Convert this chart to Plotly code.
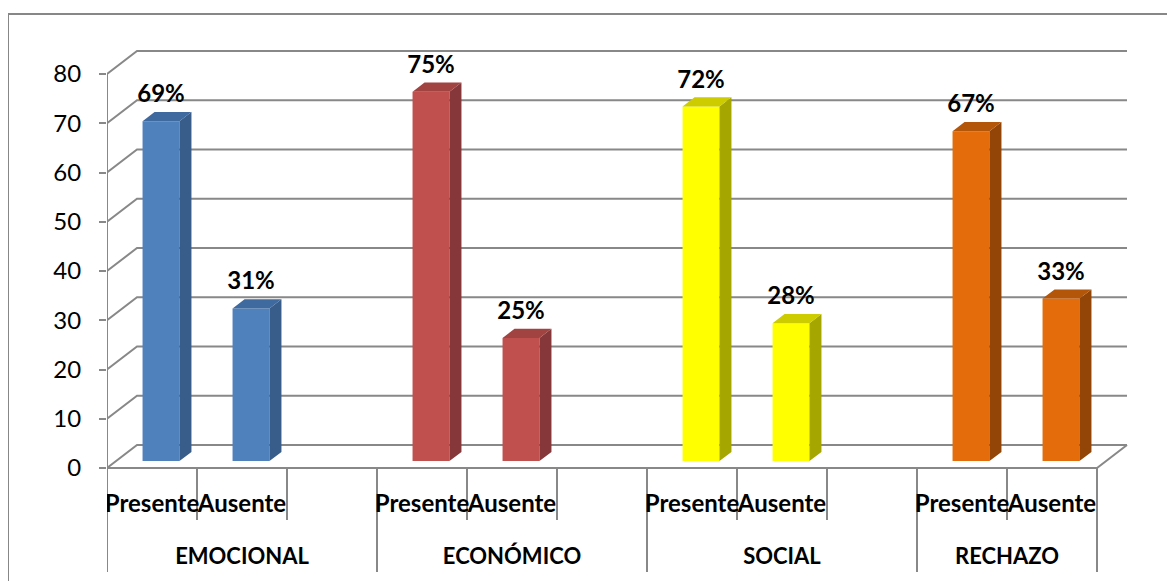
import plotly.graph_objects as go

# ---------------- data ----------------
categories = ["EMOCIONAL", "ECONÓMICO", "SOCIAL", "RECHAZO"]
sub_labels = ["Presente", "Ausente"]
presente = [69, 75, 72, 67]
ausente = [31, 25, 28, 33]
y_ticks = [0, 10, 20, 30, 40, 50, 60, 70, 80]

front_colors = ["#4F81BD", "#C0504D", "#FFFF00", "#E46C0A"]
side_colors = ["#385D8A", "#86373A", "#A6A600", "#924507"]
top_colors = ["#3F6A9F", "#A04341", "#CCCC00", "#B3560A"]

# ---------------- geometry (pseudo-3D like Excel) ----------------
OFF = 8              # page body margin of the browser
PX_X = 90.0          # px per category slot
PX_Y = 4.925         # px per value unit
DX = 30 / PX_X       # depth offset of the back wall (x, data units)
DY = 23 / PX_Y       # depth offset of the back wall (y, data units)
BAR_W = 0.41
FRONT_F = 0.30       # bar front plane (fraction of depth)
DEPTH_F = 0.40       # bar depth (fraction of depth)
BX, BY = FRONT_F * DX, FRONT_F * DY
DDX, DDY = DEPTH_F * DX, DEPTH_F * DY

n_slots = 3 * len(categories) - 1
x_left, x_right = -0.5, n_slots - 0.5

W, H = 1175 - OFF, 581 - OFF
ML, MT = 107 - OFF, 40 - OFF
plot_right_px = 1140 - OFF
plot_bottom_px = 578 - OFF
MR = W - plot_right_px
MB = H - plot_bottom_px
plot_w = plot_right_px - ML
plot_h = plot_bottom_px - MT
y0_px = 468 - OFF                # pixel row of value 0 on the front plane
y_bottom = -(plot_bottom_px - y0_px) / PX_Y
y_top = y_bottom + plot_h / PX_Y
x_max = x_left + plot_w / PX_X

GRID = "#888888"
FONT = "Lato, 'Open Sans', sans-serif"

fig = go.Figure()

# bars
for g, cat in enumerate(categories):
    vals = [presente[g], ausente[g]]
    xs = [3 * g + i + BX for i in range(2)]
    fig.add_trace(go.Bar(
        x=xs, y=vals, base=BY, width=BAR_W,
        marker=dict(color=front_colors[g], line=dict(width=0)),
        hoverinfo="skip", showlegend=False))
    sx, sy, tx, ty = [], [], [], []
    for xc, v in zip(xs, vals):
        xl, xr = xc - BAR_W / 2, xc + BAR_W / 2
        yb, yt = BY, BY + v
        sx += [xr, xr + DDX, xr + DDX, xr, xr, None]
        sy += [yb, yb + DDY, yt + DDY, yt, yb, None]
        tx += [xl, xr, xr + DDX, xl + DDX, xl, None]
        ty += [yt, yt, yt + DDY, yt + DDY, yt, None]
    fig.add_trace(go.Scatter(x=sx, y=sy, mode="lines", fill="toself",
                             fillcolor=side_colors[g], line=dict(width=0),
                             hoverinfo="skip", showlegend=False))
    fig.add_trace(go.Scatter(x=tx, y=ty, mode="lines", fill="toself",
                             fillcolor=top_colors[g], line=dict(width=0),
                             hoverinfo="skip", showlegend=False))
    fig.add_trace(go.Scatter(
        x=xs, y=[BY + v + 25 / PX_Y for v in vals], mode="text",
        text=[f"{v}%" for v in vals],
        textfont=dict(family=FONT, size=24, color="black", weight="bold"),
        hoverinfo="skip", showlegend=False))

# sub-category labels and category labels
sub_x, sub_t, cat_x = [], [], []
for g, cat in enumerate(categories):
    for i, s in enumerate(sub_labels):
        sub_x.append(3 * g + i)
        sub_t.append(s)
    g_start = 3 * g - 0.5
    g_end = min(3 * g + 2.5, x_right)
    cat_x.append((g_start + g_end) / 2)
fig.add_trace(go.Scatter(
    x=sub_x, y=[-38 / PX_Y] * len(sub_x), mode="text", text=sub_t,
    textfont=dict(family=FONT, size=24, color="black", weight="bold"),
    hoverinfo="skip", showlegend=False))
fig.add_trace(go.Scatter(
    x=cat_x, y=[-90 / PX_Y] * len(cat_x), mode="text", text=categories,
    textfont=dict(family=FONT, size=22, color="black", weight="bold"),
    hoverinfo="skip", showlegend=False))

# structural lines (walls, floor, dividers)
shapes = []
line = dict(color=GRID, width=2)
for v in y_ticks:
    shapes.append(dict(type="path", layer="below", xref="x", yref="y", line=line,
                       path=f"M {x_left},{v} L {x_left + DX},{v + DY} L {x_right + DX},{v + DY}"))
shapes.append(dict(type="line", layer="below", xref="x", yref="y", line=line,
                   x0=x_left, y0=0, x1=x_left, y1=y_ticks[-1]))
shapes.append(dict(type="path", layer="below", xref="x", yref="y", line=line,
                   path=f"M {x_left},0 L {x_right},0 L {x_right + DX},{DY}"))
group_bounds = set(3 * g - 0.5 for g in range(len(categories)))
group_bounds.add(x_right)
short_len = 52 / PX_Y
long_len = 104 / PX_Y
for k in range(n_slots + 1):
    xb = k - 0.5
    ln = long_len if xb in group_bounds else short_len
    shapes.append(dict(type="line", layer="below", xref="x", yref="y", line=line,
                       x0=xb, y0=0, x1=xb, y1=-ln))
# outer chart border (left/top visible, right/bottom run off the picture)
shapes.append(dict(type="rect", xref="paper", yref="paper", layer="below",
                   x0=(8 - OFF - ML) / plot_w, x1=(W + 10 - ML) / plot_w,
                   y0=(plot_bottom_px - (H + 10)) / plot_h,
                   y1=(plot_bottom_px - (14 - OFF)) / plot_h,
                   line=dict(color="#878787", width=2), fillcolor="rgba(0,0,0,0)"))

fig.update_layout(
    width=W, height=H, autosize=False,
    margin=dict(l=ML, r=MR, t=MT, b=MB, pad=0),
    paper_bgcolor="white", plot_bgcolor="white",
    barmode="overlay", showlegend=False,
    shapes=shapes,
    xaxis=dict(range=[x_left, x_max], visible=False, fixedrange=True),
    yaxis=dict(range=[y_bottom, y_top], tickvals=y_ticks, ticks="outside",
               ticklen=7, tickwidth=2, tickcolor=GRID, showgrid=False,
               zeroline=False, showline=False, ticklabelstandoff=13,
               tickfont=dict(family=FONT, size=24, color="black"),
               fixedrange=True),
)

fig.write_html("out.html")
